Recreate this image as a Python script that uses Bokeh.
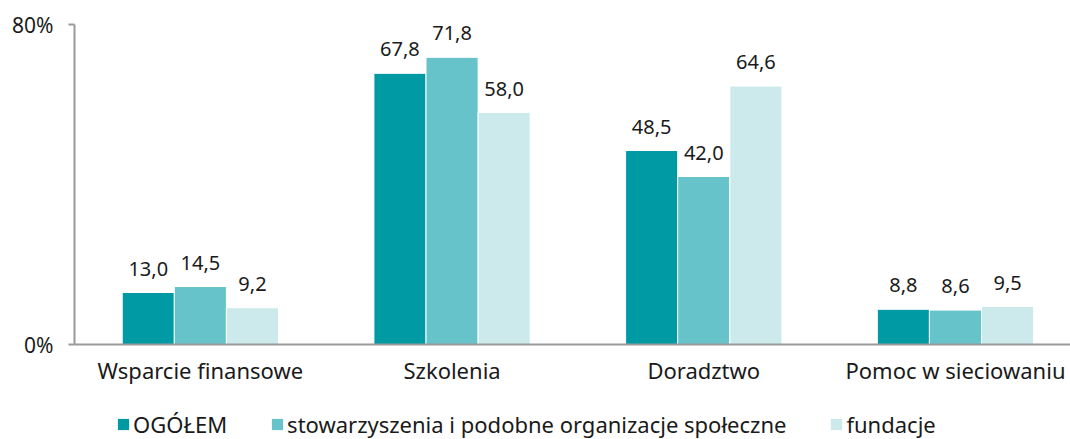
from bokeh.plotting import figure
from bokeh.models import ColumnDataSource, Range1d, FixedTicker, Legend, LegendItem, LabelSet
from bokeh.layouts import column
from bokeh.transform import dodge
from bokeh.core.properties import value
from bokeh.embed import file_html
from bokeh.resources import INLINE

categories = ["Wsparcie finansowe", "Szkolenia", "Doradztwo", "Pomoc w sieciowaniu"]
series_names = ["OGÓŁEM", "stowarzyszenia i podobne organizacje społeczne", "fundacje"]
ogolem = [13.0, 67.8, 48.5, 8.8]
stowarzyszenia = [14.5, 71.8, 42.0, 8.6]
fundacje = [9.2, 58.0, 64.6, 9.5]
colors = ["#009AA4", "#66C3C9", "#CCEAEC"]

FONT = "Noto Sans"
FS_VAL = "20px"
FS_TICK = "21px"
FS_CAT = "22px"
FS_LEG = "22px"
TXT = "#1a1a1a"

def fmt(v):
    return f"{v:.1f}".replace(".", ",")

xpos = [i + 0.5 for i in range(len(categories))]
src = ColumnDataSource(dict(
    x=xpos,
    s0=ogolem, s1=stowarzyszenia, s2=fundacje,
    l0=[fmt(v) for v in ogolem], l1=[fmt(v) for v in stowarzyszenia], l2=[fmt(v) for v in fundacje],
))

p = figure(width=1070, height=395, x_range=Range1d(0, 3.957), y_range=Range1d(0, 80),
           output_backend="svg", toolbar_location=None,
           min_border_left=74, min_border_right=0, min_border_top=24, min_border_bottom=51)
p.outline_line_color = None
p.xgrid.grid_line_color = None
p.ygrid.grid_line_color = None
p.background_fill_color = None
p.border_fill_color = None

w = 0.207
for i, (col, lab) in enumerate([("s0", "l0"), ("s1", "l1"), ("s2", "l2")]):
    off = (i - 1) * w
    p.vbar(x=dodge("x", off), top=col, width=w, source=src,
           fill_color=colors[i], line_color="white", line_width=1)
    ls = LabelSet(x=dodge("x", off), y=col, text=lab, source=src,
                  text_align="center", text_baseline="alphabetic", y_offset=17,
                  text_font=value(FONT), text_font_size=value(FS_VAL), text_color=TXT)
    p.add_layout(ls)

p.yaxis.ticker = FixedTicker(ticks=[0, 80])
p.yaxis.major_label_overrides = {0: "0%", 80: "80%"}
p.yaxis.minor_tick_line_color = None
p.yaxis.major_tick_in = 0
p.yaxis.major_tick_out = 6
p.yaxis.major_tick_line_color = "#999999"
p.yaxis.axis_line_color = "#999999"
p.yaxis.axis_line_width = 2
p.yaxis.major_tick_line_width = 2
p.yaxis.major_label_text_font = FONT
p.yaxis.major_label_text_font_size = FS_TICK
p.yaxis.major_label_text_color = TXT
p.yaxis.major_label_standoff = 15

p.xaxis.ticker = FixedTicker(ticks=xpos)
p.xaxis.major_label_overrides = {x: c for x, c in zip(xpos, categories)}
p.xaxis.major_tick_line_color = None
p.xaxis.minor_tick_line_color = None
p.xaxis.axis_line_color = "#999999"
p.xaxis.axis_line_width = 2
p.xaxis.major_label_text_font = FONT
p.xaxis.major_label_text_font_size = FS_CAT
p.xaxis.major_label_text_color = TXT
p.xaxis.major_label_standoff = 4

# legend strip (dummy renderers sit outside the visible range)
lf = figure(width=1070, height=44, x_range=Range1d(0, 1), y_range=Range1d(0, 1),
            output_backend="svg", toolbar_location=None,
            x_axis_location=None, y_axis_location=None,
            min_border_left=0, min_border_right=0, min_border_top=0, min_border_bottom=0)
lf.outline_line_color = None
lf.xgrid.grid_line_color = None
lf.ygrid.grid_line_color = None
lf.background_fill_color = None
lf.border_fill_color = None
items = []
for i in range(3):
    r = lf.vbar(x=[-10], top=[-10], bottom=[-20], width=0.1, fill_color=colors[i], line_color=None)
    items.append(LegendItem(label=series_names[i], renderers=[r]))
legend = Legend(items=items, orientation="horizontal", location=(42, 0),
                padding=0, margin=0, spacing=43, label_standoff=3,
                glyph_width=14, glyph_height=14,
                border_line_alpha=0, background_fill_alpha=0,
                label_text_font=FONT, label_text_font_size=FS_LEG, label_text_color=TXT)
lf.add_layout(legend, "center")

layout = column(p, lf, spacing=0)
open("out.html", "w").write(file_html(layout, INLINE))
